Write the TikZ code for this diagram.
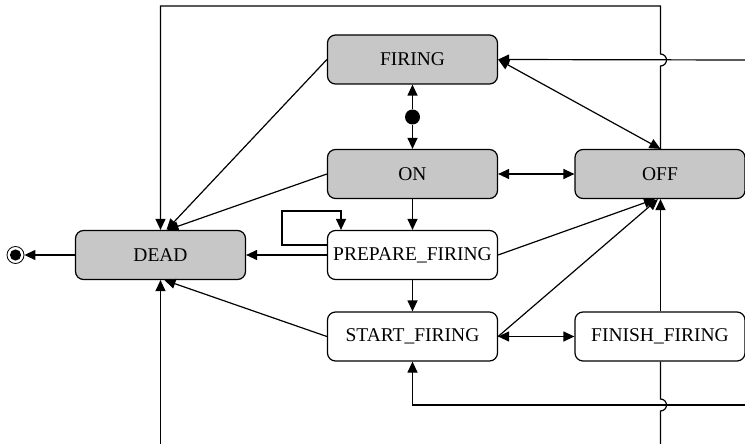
\documentclass[tikz,border=0pt]{standalone}
\usepackage{fontspec}
\setmainfont{Liberation Serif}
\usetikzlibrary{arrows.meta}

\tikzset{
  x=1pt, y=1pt,
  state/.style={draw, line width=1.2pt, rounded corners=8pt, minimum width=170pt,
    minimum height=49pt, inner sep=0pt, font=\fontsize{19.5}{22}\selectfont},
  active/.style={state, fill=black!22},
  plain/.style={state, fill=white},
  arr/.style={line width=1.2pt, -{Triangle[length=11pt,width=10pt]}},
  darr/.style={line width=1.2pt, {Triangle[length=11pt,width=10pt]}-{Triangle[length=11pt,width=10pt]}},
  wire/.style={line width=1.2pt},
}

\begin{document}
\begin{tikzpicture}
\useasboundingbox (0,0) rectangle (745,-444);
\clip (0,0) rectangle (745,-444);

% states
\node[active] (firing) at (412.5,-59.5) {FIRING};
\node[active] (on)     at (412.5,-174)  {ON};
\node[active] (off)    at (660,-174)    {OFF};
\node[active] (dead)   at (160.5,-255)  {DEAD};
\node[plain]  (prep)   at (412.5,-255)  {PREPARE\_FIRING};
\node[plain]  (start)  at (412.5,-336.5){START\_FIRING};
\node[plain]  (finish) at (660,-336.5)  {FINISH\_FIRING};

% initial and final pseudo-states
\node[circle, fill=black, minimum size=15pt, inner sep=0pt] (init) at (412.5,-117) {};
\node[circle, draw, line width=0.8pt, minimum size=17pt, inner sep=0pt] (final) at (15.5,-255) {};
\fill (final.center) circle (5.6pt);

% points where wires leave the frame
\coordinate (topL)  at (160.5,-6);
\coordinate (topR)  at (660.5,-6);
\coordinate (edgeF) at (745,-60);
\coordinate (edgeS) at (745,-405);
\coordinate (botD)  at (160.5,-444);
\coordinate (botF)  at (660.5,-444);

% initial transitions
\draw[arr] (init) -- (firing.south);
\draw[arr] (init) -- (on.north);

% transitions into DEAD
\draw[arr] (firing.west) -- ([xshift=6pt]dead.north);
\draw[arr] (on.west) -- ([xshift=7pt]dead.north);
\draw[arr] (prep.west) -- (dead.east);
\draw[arr] (start.west) -- ([xshift=4pt]dead.south);
\draw[arr] (botD) -- (dead.south);
\draw[arr] (dead.west) -- (final.east);

% OFF back to DEAD over the top, hopping the FIRING wire
\draw[arr, rounded corners=0pt] ([xshift=0.5pt]off.north) -- (660.5,-66)
  arc[start angle=-90, end angle=90, radius=6pt]
  -- (topR) -- (topL) -- (dead.north);

% main flow
\draw[darr] (firing.east) -- ([xshift=0.5pt]off.north);
\draw[darr] (on.east) -- (off.west);
\draw[arr] (on.south) -- (prep.north);
\draw[arr] (prep.south) -- (start.north);
\draw[darr] (start.east) -- (finish.west);

% self loop on PREPARE_FIRING
\draw[arr] ([yshift=10pt]prep.west) -- ++(-45pt,0) |- ([xshift=-71.5pt,yshift=19pt]prep.north)
  -- ([xshift=-71.5pt]prep.north);

% transitions into OFF
\draw[arr] (prep.east) -- ([xshift=-5pt]off.south);
\draw[arr] (start.east) -- ([xshift=-2pt]off.south);
\draw[arr] ([xshift=0.5pt]finish.north) -- ([xshift=0.5pt]off.south);

% wires entering from the right
\draw[arr] (edgeF) -- (firing.east);
\draw[arr] (edgeS) -| (start.south);

% FINISH_FIRING leaving downwards, hopping the lower wire
\draw[wire] ([xshift=0.5pt]finish.south) -- (660.5,-399)
  arc[start angle=90, end angle=-90, radius=6pt] -- (botF);
\end{tikzpicture}
\end{document}
